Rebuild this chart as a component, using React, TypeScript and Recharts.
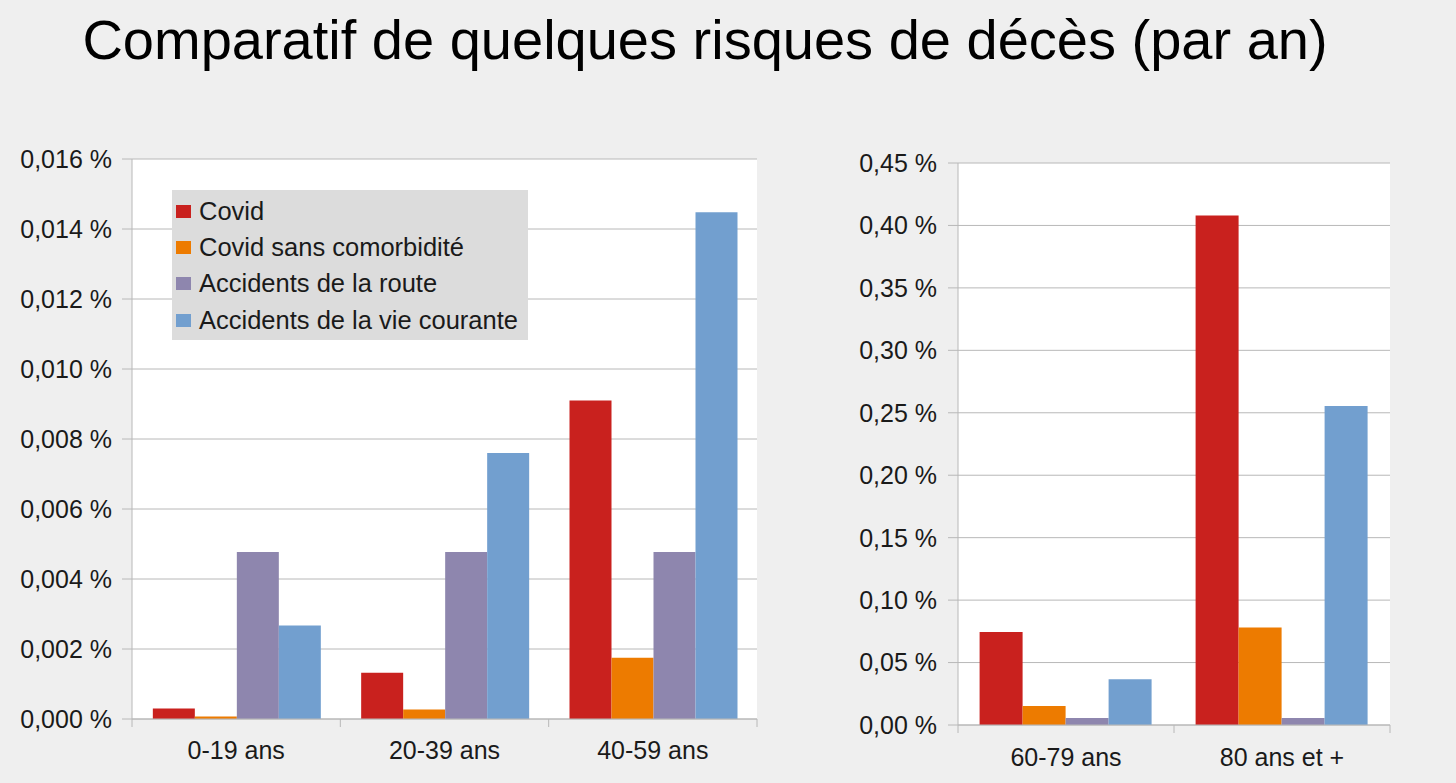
import React from "react";
import { BarChart, Bar, XAxis, YAxis, CartesianGrid } from "recharts";

// values in percent per year
const youngAges = ["0-19 ans", "20-39 ans", "40-59 ans"];
const youngCovid = [0.0003, 0.00132, 0.0091];
const youngCovidSans = [0.00007, 0.00027, 0.00175];
const youngRoute = [0.00477, 0.00477, 0.00477];
const youngVie = [0.00267, 0.0076, 0.01448];
const youngTicks = [0, 0.002, 0.004, 0.006, 0.008, 0.01, 0.012, 0.014, 0.016];

const oldAges = ["60-79 ans", "80 ans et +"];
const oldCovid = [0.0745, 0.408];
const oldCovidSans = [0.0152, 0.078];
const oldRoute = [0.0057, 0.0057];
const oldVie = [0.0366, 0.2555];
const oldTicks = [0, 0.05, 0.1, 0.15, 0.2, 0.25, 0.3, 0.35, 0.4, 0.45];

const seriesNames = [
  "Covid",
  "Covid sans comorbidité",
  "Accidents de la route",
  "Accidents de la vie courante",
];
const colors = ["#c9211e", "#ed7b00", "#8e86ae", "#729fcf"];
const keys = ["covid", "covidSans", "route", "vie"];

const youngData = youngAges.map((age, i) => ({
  age,
  covid: youngCovid[i],
  covidSans: youngCovidSans[i],
  route: youngRoute[i],
  vie: youngVie[i],
}));

const oldData = oldAges.map((age, i) => ({
  age,
  covid: oldCovid[i],
  covidSans: oldCovidSans[i],
  route: oldRoute[i],
  vie: oldVie[i],
}));

const FONT = "'Liberation Sans', Arial, sans-serif";
const GRID = "#b8b8b8";
const TEXT = "#1a1a1a";
const TICK_FONT = 25;

const fmt = (digits: number) => (v: number) =>
  v.toFixed(digits).replace(".", ",") + " %";

// category-boundary ticks like LibreOffice
const makeXTick = (bandWidth: number, dyText: number) => (props: any) => {
  const { x, y, payload, index, visibleTicksCount } = props;
  const left = x - bandWidth / 2;
  const right = x + bandWidth / 2;
  return (
    <g>
      <line x1={left} x2={left} y1={y} y2={y + 8} stroke={GRID} />
      {index === visibleTicksCount - 1 && (
        <line x1={right} x2={right} y1={y} y2={y + 8} stroke={GRID} />
      )}
      <text
        x={x}
        y={y + dyText}
        textAnchor="middle"
        fill={TEXT}
        fontSize={TICK_FONT}
        fontFamily={FONT}
      >
        {payload.value}
      </text>
    </g>
  );
};

const LegendBox = () => (
  <div
    style={{
      position: "absolute",
      left: 172,
      top: 190,
      background: "#dcdcdc",
      width: 356,
      height: 150,
      boxSizing: "border-box",
      paddingTop: 3,
      paddingLeft: 4,
      fontFamily: FONT,
      fontSize: 25.5,
      color: TEXT,
      whiteSpace: "nowrap",
    }}
  >
    {seriesNames.map((name, i) => (
      <div
        key={name}
        style={{ display: "flex", alignItems: "center", height: 36.3 }}
      >
        <span
          style={{
            display: "inline-block",
            width: 15,
            height: 13,
            background: colors[i],
            marginRight: 8,
          }}
        />
        {name}
      </div>
    ))}
  </div>
);

const App = () => {
  const leftW = 770;
  const leftH = 640;
  const leftMargin = { top: 19, right: 13, bottom: 11, left: 10 };
  const leftPlotW = leftW - leftMargin.left - leftMargin.right - 122;

  const rightW = 600;
  const rightH = 640;
  const rightMargin = { top: 23, right: 10, bottom: 10, left: 10 };
  const rightPlotW = rightW - rightMargin.left - rightMargin.right - 148;

  return (
    <div
      style={{
        position: "absolute",
        left: 0,
        top: 0,
        width: 1456,
        height: 783,
        background: "#efefef",
        overflow: "hidden",
        fontFamily: FONT,
      }}
    >
      <div
        style={{
          position: "absolute",
          left: 0,
          width: 1410,
          top: 7,
          textAlign: "center",
          fontSize: 56,
          color: "#000",
          whiteSpace: "nowrap",
        }}
      >
        Comparatif de quelques risques de décès (par an)
      </div>

      <div style={{ position: "absolute", left: 0, top: 140 }}>
        <BarChart
          width={leftW}
          height={leftH}
          data={youngData}
          margin={leftMargin}
          barGap={0}
          barCategoryGap="10%"
        >
          <CartesianGrid vertical={false} stroke={GRID} fill="#ffffff" />
          <XAxis
            dataKey="age"
            height={50}
            axisLine={{ stroke: GRID }}
            tickLine={false}
            tickSize={0}
            tickMargin={0}
            tick={makeXTick(leftPlotW / youngAges.length, 40)}
            interval={0}
          />
          <YAxis
            width={122}
            domain={[0, 0.016]}
            ticks={youngTicks}
            tickFormatter={fmt(3)}
            axisLine={{ stroke: GRID }}
            tickLine={{ stroke: GRID }}
            tickSize={10}
            tickMargin={10}
            tick={{ fill: TEXT, fontSize: TICK_FONT, fontFamily: FONT }}
          />
          <YAxis
            yAxisId="border"
            orientation="right"
            width={0}
            tick={false}
            axisLine={{ stroke: GRID }}
            domain={[0, 1]}
          />
          {keys.map((k, i) => (
            <Bar
              key={k}
              dataKey={k}
              name={seriesNames[i]}
              fill={colors[i]}
              isAnimationActive={false}
            />
          ))}
        </BarChart>
      </div>

      <LegendBox />

      <div style={{ position: "absolute", left: 800, top: 140 }}>
        <BarChart
          width={rightW}
          height={rightH}
          data={oldData}
          margin={rightMargin}
          barGap={0}
          barCategoryGap="10%"
        >
          <CartesianGrid vertical={false} stroke={GRID} fill="#ffffff" />
          <XAxis
            dataKey="age"
            height={45}
            axisLine={{ stroke: GRID }}
            tickLine={false}
            tickSize={0}
            tickMargin={0}
            tick={makeXTick(rightPlotW / oldAges.length, 41)}
            interval={0}
          />
          <YAxis
            width={148}
            domain={[0, 0.45]}
            ticks={oldTicks}
            tickFormatter={fmt(2)}
            axisLine={{ stroke: GRID }}
            tickLine={{ stroke: GRID }}
            tickSize={10}
            tickMargin={11}
            tick={{ fill: TEXT, fontSize: TICK_FONT, fontFamily: FONT }}
          />
          <YAxis
            yAxisId="border"
            orientation="right"
            width={0}
            tick={false}
            axisLine={{ stroke: GRID }}
            domain={[0, 1]}
          />
          {keys.map((k, i) => (
            <Bar
              key={k}
              dataKey={k}
              name={seriesNames[i]}
              fill={colors[i]}
              isAnimationActive={false}
            />
          ))}
        </BarChart>
      </div>
    </div>
  );
};

export default App;
